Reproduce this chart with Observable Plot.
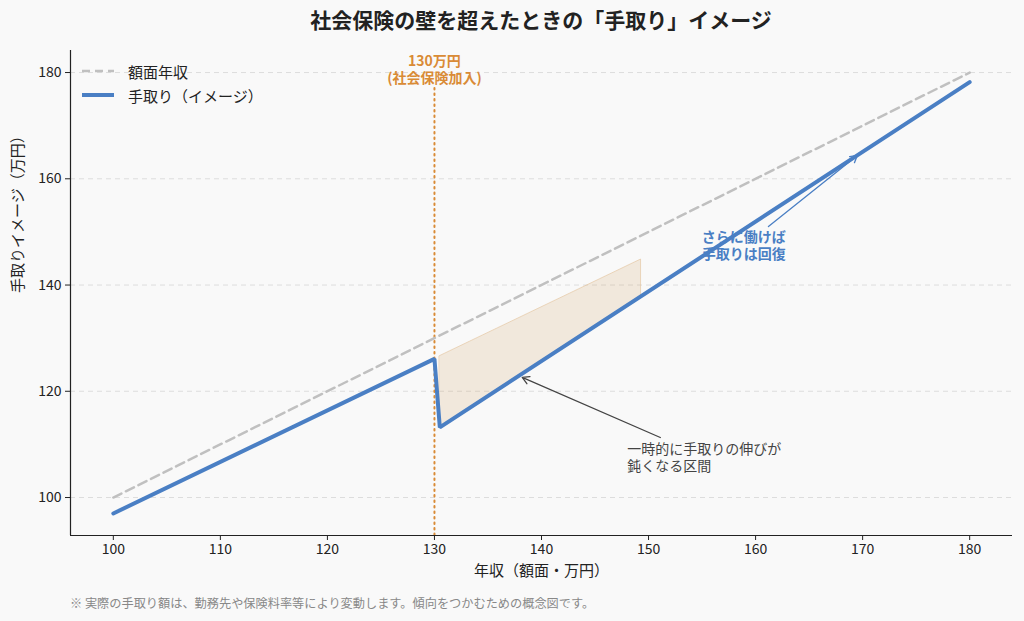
<!DOCTYPE html>
<html><head><meta charset="utf-8">
<script src="https://cdn.jsdelivr.net/npm/d3@7"></script>
<script src="https://cdn.jsdelivr.net/npm/@observablehq/plot@0.6"></script>
<style>
body{margin:0;background:#f9f9f9;font-family:"Noto Sans CJK JP","Noto Sans",sans-serif;}
#wrap{position:relative;width:1024px;height:621px;background:#f9f9f9;}
#title{position:absolute;left:70px;width:942px;top:0;height:38px;line-height:38px;text-align:center;font-size:21px;font-weight:bold;color:#222;}
#chart{position:absolute;left:0;top:36px;}
#legend{position:absolute;left:80px;top:59px;font-size:15px;color:#222;}
#legend div{height:24px;display:flex;align-items:center;}
#legend svg{margin-right:12px;}
#foot{position:absolute;left:70px;top:594px;font-size:12.2px;color:#888;}
</style></head>
<body>
<div id="wrap">
<div id="title">社会保険の壁を超えたときの「手取り」イメージ</div>
<div id="chart"></div>
<div id="legend">
<div><svg width="36" height="6"><line x1="2" y1="3" x2="34" y2="3" stroke="#c0c0c0" stroke-width="2.5" stroke-dasharray="8,5"/></svg>額面年収</div>
<div><svg width="36" height="6"><line x1="2" y1="3" x2="34" y2="3" stroke="#4a7fc4" stroke-width="4"/></svg>手取り（イメージ）</div>
</div>
<div id="foot">※ 実際の手取り額は、勤務先や保険料率等により変動します。傾向をつかむための概念図です。</div>
</div>
<script>
// data
const grossX = [100, 180];
const grossY = [100, 180];
const netX = [100, 130, 130.5, 180];
const netY = [97, 126.1, 113.2, 178.2];
const shadeX = [130.5, 149.3];
const shadeTop = [126.6, 144.8];
const shadeBottom = [113.2, 137.9];
const wallX = 130;
const xTicks = [100, 110, 120, 130, 140, 150, 160, 170, 180];
const yTicks = [100, 120, 140, 160, 180];

const gross = grossX.map((x, i) => ({x, y: grossY[i]}));
const net = netX.map((x, i) => ({x, y: netY[i]}));
const shade = shadeX.map((x, i) => ({x, y1: shadeBottom[i], y2: shadeTop[i]}));

const orange = "#d98b36";
const blue = "#4a7fc4";

const chart = Plot.plot({
  width: 1024, height: 556,
  marginLeft: 70, marginRight: 12, marginTop: 14, marginBottom: 57,
  style: {background: "transparent", fontFamily: '"Noto Sans CJK JP","Noto Sans",sans-serif', fontSize: "14px", color: "#222"},
  x: {domain: [96, 184], ticks: xTicks, tickSize: 5, tickPadding: 4, label: null},
  y: {domain: [92.85, 184.15], ticks: yTicks, tickSize: 5, tickPadding: 4, label: null},
  marks: [
    Plot.gridY(yTicks, {stroke: "#ddd", strokeOpacity: 1, strokeDasharray: "5,4"}),
    Plot.areaY(shade, {x: "x", y1: "y1", y2: "y2", fill: "#d4a56a", fillOpacity: 0.2, stroke: "#e2c29a", strokeOpacity: 0.6, strokeWidth: 1}),
    Plot.ruleX([wallX], {y1: 92.85, y2: 177.2, stroke: orange, strokeWidth: 2, strokeDasharray: "1.5,4", strokeLinecap: "round"}),
    Plot.line(gross, {x: "x", y: "y", stroke: "#c0c0c0", strokeWidth: 2.5, strokeDasharray: "9,5"}),
    Plot.line(net, {x: "x", y: "y", stroke: blue, strokeWidth: 4, strokeLinejoin: "miter"}),
    Plot.text(["130万円\n(社会保険加入)"], {x: wallX, y: 180.7, text: d => d, lineHeight: 1.22, fill: orange, fontWeight: "bold", fontSize: 14}),
    Plot.arrow([{x1: 151.1, y1: 111.3, x2: 138.2, y2: 122.6}], {x1: "x1", y1: "y1", x2: "x2", y2: "y2", stroke: "#444", strokeWidth: 1.3, headLength: 9}),
    Plot.text(["一時的に手取りの伸びが\n鈍くなる区間"], {x: 148.0, y: 107.6, text: d => d, lineHeight: 1.22, textAnchor: "start", fill: "#444", fontSize: 14}),
    Plot.arrow([{x1: 161.2, y1: 151.0, x2: 169.5, y2: 164.4}], {x1: "x1", y1: "y1", x2: "x2", y2: "y2", stroke: blue, strokeWidth: 1.3, headLength: 9}),
    Plot.text(["さらに働けば\n手取りは回復"], {x: 158.9, y: 147.6, text: d => d, lineHeight: 1.22, fill: blue, fontWeight: "bold", fontSize: 14}),
    Plot.axisX({ticks: xTicks, tickSize: 5, fontSize: 14, label: null}),
    Plot.axisY({ticks: yTicks, tickSize: 5, fontSize: 14, label: null}),
    Plot.ruleY([92.85], {stroke: "#222", strokeWidth: 1.2}),
    Plot.ruleX([96], {stroke: "#222", strokeWidth: 1.2}),
    Plot.text(["年収（額面・万円）"], {frameAnchor: "bottom", dy: 40, text: d => d, fontSize: 15, fill: "#222"}),
    Plot.text(["手取りイメージ（万円）"], {frameAnchor: "left", dx: -52, rotate: -90, text: d => d, fontSize: 15, fill: "#222"})
  ]
});
document.getElementById("chart").appendChild(chart);
</script>
</body></html>
